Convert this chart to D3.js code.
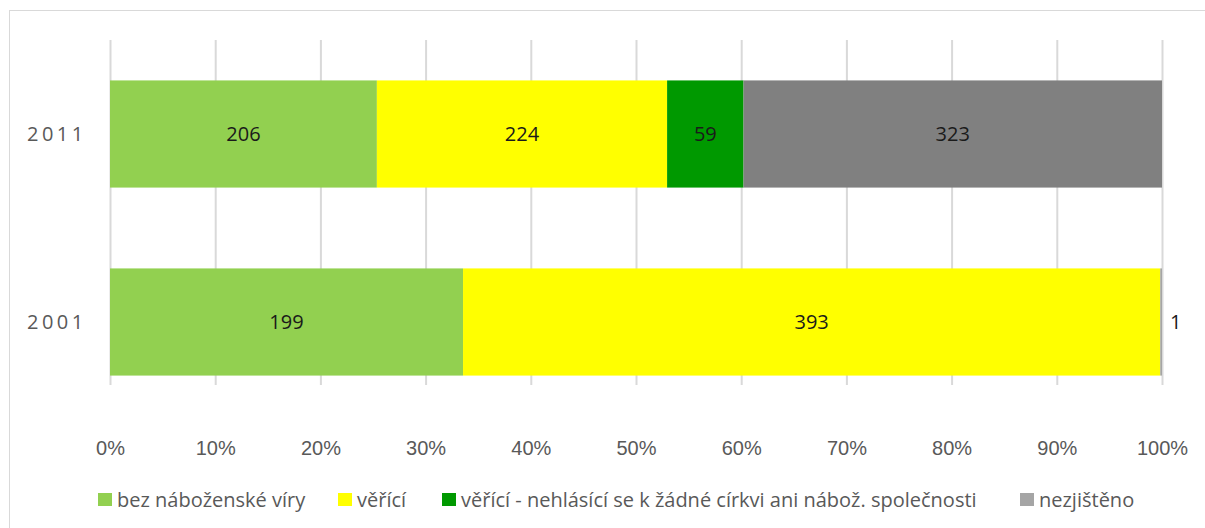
<!DOCTYPE html>
<html>
<head>
<meta charset="utf-8">
<script src="https://cdn.jsdelivr.net/npm/d3@7"></script>
<style>
  body { margin: 0; background: #fff; }
  svg { font-family: "Open Sans", "Noto Sans", sans-serif; }
</style>
</head>
<body>
<div id="chart"></div>
<script>
// data
const years = ["2011", "2001"]
const seriesNames = ["bez náboženské víry", "věřící", "věřící - nehlásící se k žádné církvi ani nábož. společnosti", "nezjištěno"]
const values2011 = [206, 224, 59, 323]
const values2001 = [199, 393, 0, 1]
const tickValues = [0, 0.1, 0.2, 0.3, 0.4, 0.5, 0.6, 0.7, 0.8, 0.9, 1]

const colors = ["#92d050", "#ffff00", "#009900", "#a5a5a5"]
const barOverride = { "2011-3": "#808080" }

const width = 1205, height = 528

const svg = d3.select("#chart")
    .append("svg")
    .attr("width", width)
    .attr("height", height)

// outer border
svg.append("rect")
    .attr("x", 9.5).attr("y", 10.5)
    .attr("width", width).attr("height", height)
    .attr("fill", "none")
    .attr("stroke", "#d9d9d9")

const x = d3.scaleLinear().domain([0, 1]).range([110, 1162])
const y = d3.scaleBand().domain(years).range([40, 416])
    .paddingInner(0.43).paddingOuter(0.215)

const gridTop = 40, gridBottom = 385

// gridlines + tick labels
const axis = svg.append("g")
    .attr("transform", `translate(0,${gridBottom})`)
    .call(d3.axisBottom(x)
        .tickValues(tickValues)
        .tickFormat(d3.format(".0%"))
        .tickSizeInner(-(gridBottom - gridTop))
        .tickSizeOuter(0)
        .tickPadding(56))
axis.select(".domain").remove()
axis.selectAll("line").attr("stroke", "#d9d9d9").attr("stroke-width", 2)
axis.selectAll("text")
    .attr("font-family", null)
    .attr("font-size", null)
    .attr("fill", "#595959")
    .style("font-size", "20px")

// stack
const rows = years.map((yr, i) => {
    const vals = i === 0 ? values2011 : values2001
    const total = d3.sum(vals)
    let acc = 0
    return vals.map((v, k) => {
        const seg = { year: yr, k: k, value: v, x0: acc / total, x1: (acc + v) / total }
        acc += v
        return seg
    })
})
const segs = rows.flat()

svg.selectAll(".bar")
    .data(segs.filter(d => d.value > 0))
    .join("rect")
    .attr("class", "bar")
    .attr("x", d => x(d.x0))
    .attr("width", d => x(d.x1) - x(d.x0))
    .attr("y", d => y(d.year))
    .attr("height", y.bandwidth())
    .attr("fill", d => barOverride[d.year + "-" + d.k] || colors[d.k])

// data labels (tiny segments get the label outside, to the right)
const tiny = d => (x(d.x1) - x(d.x0)) < 20
svg.selectAll(".lbl")
    .data(segs.filter(d => d.value > 0))
    .join("text")
    .attr("class", "lbl")
    .attr("x", d => tiny(d) ? x(d.x1) + 8 : (x(d.x0) + x(d.x1)) / 2)
    .attr("y", d => y(d.year) + y.bandwidth() / 2)
    .attr("dy", "0.35em")
    .attr("text-anchor", d => tiny(d) ? "start" : "middle")
    .attr("fill", "#1a1a1a")
    .style("font-size", "20px")
    .text(d => d.value)

// year labels
svg.selectAll(".yr")
    .data(years)
    .join("text")
    .attr("class", "yr")
    .attr("x", 27)
    .attr("y", d => y(d) + y.bandwidth() / 2)
    .attr("dy", "0.35em")
    .attr("fill", "#595959")
    .style("font-size", "20px")
    .style("letter-spacing", "3.5px")
    .text(d => d)

// legend
const legendX = [98, 338, 442, 1020]
const lg = svg.selectAll(".lg")
    .data(seriesNames)
    .join("g")
    .attr("class", "lg")
    .attr("transform", (d, i) => `translate(${legendX[i]},500)`)
lg.append("rect")
    .attr("x", 0).attr("y", -7)
    .attr("width", 14).attr("height", 13)
    .attr("fill", (d, i) => colors[i])
lg.append("text")
    .attr("x", 19)
    .attr("dy", "0.35em")
    .attr("fill", "#595959")
    .style("font-size", "20px")
    .text(d => d)
</script>
</body>
</html>
